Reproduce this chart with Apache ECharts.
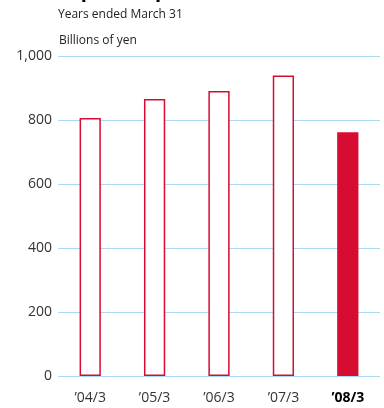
<!DOCTYPE html>
<html>
<head>
<meta charset="utf-8">
<script src="https://cdn.jsdelivr.net/npm/echarts@6/dist/echarts.min.js"></script>
<style>
  html, body { margin: 0; padding: 0; background: #fff; }
  #chart { width: 384px; height: 408px; }
</style>
</head>
<body>
<div id="chart"></div>
<script>
// Fiscal years (ended March 31) and amounts in billions of yen
const categories = ['’04/3', '’05/3', '’06/3', '’07/3', '’08/3'];
const values = [806, 866, 891, 939, 762];
const yTicks = [0, 200, 400, 600, 800, 1000];

const FONT = '"Open Sans", "Noto Sans", sans-serif';
const RED = '#d70c32';
const GRID_BLUE = '#a9daf2';
const LAST = categories.length - 1;

const chart = echarts.init(document.getElementById('chart'), null, { renderer: 'canvas' });

chart.setOption({
  animation: false,
  title: {
    text: 'Capital expenditures',
    left: 56,
    top: -19,
    padding: 0,
    textStyle: { fontFamily: FONT, fontSize: 20, fontWeight: 'bold', color: '#000' }
  },
  graphic: [
    {
      type: 'text', left: 58, top: 9,
      style: { text: 'Years ended March 31', font: '12px ' + FONT, fill: '#222' }
    },
    {
      type: 'text', left: 59, top: 35,
      style: { text: 'Billions of yen', font: '12px ' + FONT, fill: '#222' }
    }
  ],
  grid: { left: 58, right: 4, top: 56, bottom: 32, containLabel: false },
  xAxis: {
    type: 'category',
    data: categories,
    axisLine: { show: false },
    axisTick: { show: false },
    axisLabel: {
      interval: 0,
      margin: 15,
      fontFamily: FONT,
      fontSize: 14,
      color: '#333',
      formatter: (v, i) => i === LAST ? '{b|' + v + '}' : v,
      rich: { b: { fontFamily: FONT, fontSize: 14, fontWeight: 'bold', color: '#000' } }
    }
  },
  yAxis: {
    type: 'value',
    min: yTicks[0],
    max: yTicks[yTicks.length - 1],
    interval: yTicks[1] - yTicks[0],
    axisLine: { show: false },
    axisTick: { show: false },
    splitLine: { lineStyle: { color: GRID_BLUE, width: 1 } },
    axisLabel: {
      margin: 6,
      fontFamily: FONT,
      fontSize: 14,
      color: '#333',
      formatter: v => v.toLocaleString('en-US')
    }
  },
  series: [{
    type: 'bar',
    barWidth: '33%',
    data: values.map((v, i) => ({
      value: v,
      itemStyle: i === LAST
        ? { color: RED, borderColor: RED, borderWidth: 0 }
        : { color: '#fff', borderColor: RED, borderWidth: 1.5 }
    }))
  }]
});
</script>
</body>
</html>
